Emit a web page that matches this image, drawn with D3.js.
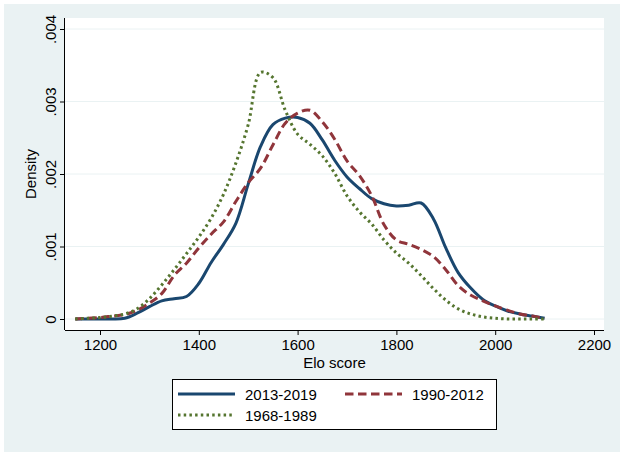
<!DOCTYPE html>
<html>
<head>
<meta charset="utf-8">
<script src="https://cdn.jsdelivr.net/npm/d3@7"></script>
<style>
  body { margin: 0; background: #fff; }
  text { font-family: "Liberation Sans", Arial, sans-serif; fill: #000; }
</style>
</head>
<body>
<div id="chart"></div>
<script>
// Elo grid shared by the three density curves
const eloGrid = [1150, 1175, 1200, 1225, 1250, 1275, 1300, 1325, 1350, 1375,
  1400, 1425, 1450, 1475, 1500, 1525, 1550, 1575, 1600, 1625,
  1650, 1675, 1700, 1725, 1750, 1775, 1800, 1825, 1850, 1875,
  1900, 1925, 1950, 1975, 2000, 2025, 2050, 2075, 2100];

const dens2013 = [0, 0, 0, 0, 0.00001, 0.00008, 0.00017, 0.00025, 0.00028, 0.00031,
  0.00049, 0.00078, 0.00103, 0.00132, 0.00186, 0.00238, 0.00268, 0.00277, 0.00278, 0.0027,
  0.00247, 0.00219, 0.00196, 0.0018, 0.00166, 0.00159, 0.00156, 0.00157, 0.0016, 0.00138,
  0.00098, 0.00064, 0.00043, 0.00027, 0.00018, 0.00011, 0.00007, 0.00004, 0.00001];

const dens1990 = [0, 0.00001, 0.00002, 0.00004, 0.00006, 0.00012, 0.00022, 0.00035, 0.0006, 0.00077,
  0.00098, 0.00117, 0.00134, 0.00162, 0.00188, 0.00208, 0.0024, 0.0027, 0.00284, 0.00288,
  0.00272, 0.00248, 0.00218, 0.00198, 0.0017, 0.0013, 0.00109, 0.00103, 0.00096, 0.00086,
  0.00068, 0.00046, 0.00033, 0.00025, 0.00018, 0.00012, 0.00007, 0.00004, 0.00001];

const dens1968 = [0, 0.00001, 0.00002, 0.00004, 0.00007, 0.00014, 0.00028, 0.00047, 0.00068, 0.0009,
  0.00113, 0.00139, 0.00172, 0.00215, 0.00268, 0.0034, 0.00333, 0.00288, 0.00255, 0.00241,
  0.00225, 0.00201, 0.0017, 0.00148, 0.00131, 0.00109, 0.00091, 0.00077, 0.0006, 0.00042,
  0.00026, 0.00014, 0.00007, 0.00003, 0.00001, 0, 0, 0, 0];

const xTicks = [1200, 1400, 1600, 1800, 2000, 2200];
const yTicks = [0, 0.001, 0.002, 0.003, 0.004];
const yTickLabels = ["0", ".001", ".002", ".003", ".004"];

const series = [
  { name: "2013-2019", values: dens2013, color: "#1a476f", dash: null },
  { name: "1990-2012", values: dens1990, color: "#90353b", dash: "8.5,4.5" },
  { name: "1968-1989", values: dens1968, color: "#55752f", dash: "2.5,3.2" }
];

const W = 624, H = 456;
const plot = { left: 65, right: 604, top: 18, bottom: 330 };

const svg = d3.select("#chart").append("svg")
  .attr("width", W).attr("height", H);

// graph region background
svg.append("rect")
  .attr("x", 4).attr("y", 4).attr("width", W - 8).attr("height", H - 8)
  .attr("fill", "#eaf2f3");

// plot region
svg.append("rect")
  .attr("x", plot.left).attr("y", plot.top)
  .attr("width", plot.right - plot.left).attr("height", plot.bottom - plot.top)
  .attr("fill", "#fff");

const x = d3.scaleLinear().domain([1200, 2200]).range([100, 594]);
const y = d3.scaleLinear().domain([0, 0.004]).range([319, 29]);

// grid lines
svg.append("g").selectAll("line").data(yTicks).join("line")
  .attr("x1", plot.left).attr("x2", plot.right)
  .attr("y1", d => y(d)).attr("y2", d => y(d))
  .attr("stroke", "#eaf2f3").attr("stroke-width", 1);

// curves
const line = d3.line()
  .x((d, i) => x(eloGrid[i]))
  .y(d => y(d))
  .curve(d3.curveCatmullRom.alpha(0.5));

series.forEach(s => {
  svg.append("path")
    .datum(s.values)
    .attr("d", line)
    .attr("fill", "none")
    .attr("stroke", s.color)
    .attr("stroke-width", 3)
    .attr("stroke-dasharray", s.dash);
});

// axes
const xAxis = d3.axisBottom(x).tickValues(xTicks).tickSize(5).tickPadding(4)
  .tickFormat(d3.format("d"));
const gx = svg.append("g").attr("transform", `translate(0,${plot.bottom})`).call(xAxis);
gx.select(".domain").attr("d", `M${plot.left},0.5H${plot.right}`);

const yAxis = d3.axisLeft(y).tickValues(yTicks).tickSize(5).tickPadding(5)
  .tickFormat((d, i) => yTickLabels[i]);
const gy = svg.append("g").attr("transform", `translate(${plot.left},0)`).call(yAxis);
gy.select(".domain").attr("d", `M-0.5,${plot.top}V${plot.bottom}`);
gy.selectAll(".tick text")
  .attr("x", 0).attr("dy", 0)
  .attr("text-anchor", "middle")
  .attr("transform", "translate(-9,0) rotate(-90)");

svg.selectAll(".domain, .tick line").attr("stroke", "#000");
svg.selectAll(".tick text").style("font-size", "15px")
  .style("font-family", '"Liberation Sans", Arial, sans-serif');

// axis titles
svg.append("text")
  .attr("x", (plot.left + plot.right) / 2).attr("y", 368)
  .attr("text-anchor", "middle").style("font-size", "15px")
  .text("Elo score");

svg.append("text")
  .attr("transform", `translate(36,${(plot.top + plot.bottom) / 2}) rotate(-90)`)
  .attr("text-anchor", "middle").style("font-size", "15px")
  .text("Density");

// legend
const lg = svg.append("g");
lg.append("rect")
  .attr("x", 172.5).attr("y", 379.5).attr("width", 324).attr("height", 50)
  .attr("fill", "#fff").attr("stroke", "#000").attr("stroke-width", 1);

const legendPos = [
  { sx: 178, tx: 245, cy: 394 },
  { sx: 345, tx: 412, cy: 394 },
  { sx: 178, tx: 245, cy: 415 }
];

series.forEach((s, i) => {
  const p = legendPos[i];
  lg.append("line")
    .attr("x1", p.sx).attr("x2", p.sx + 57)
    .attr("y1", p.cy).attr("y2", p.cy)
    .attr("stroke", s.color).attr("stroke-width", 3)
    .attr("stroke-dasharray", s.dash);
  lg.append("text")
    .attr("x", p.tx).attr("y", p.cy + 5.5)
    .style("font-size", "15px")
    .text(s.name);
});
</script>
</body>
</html>
